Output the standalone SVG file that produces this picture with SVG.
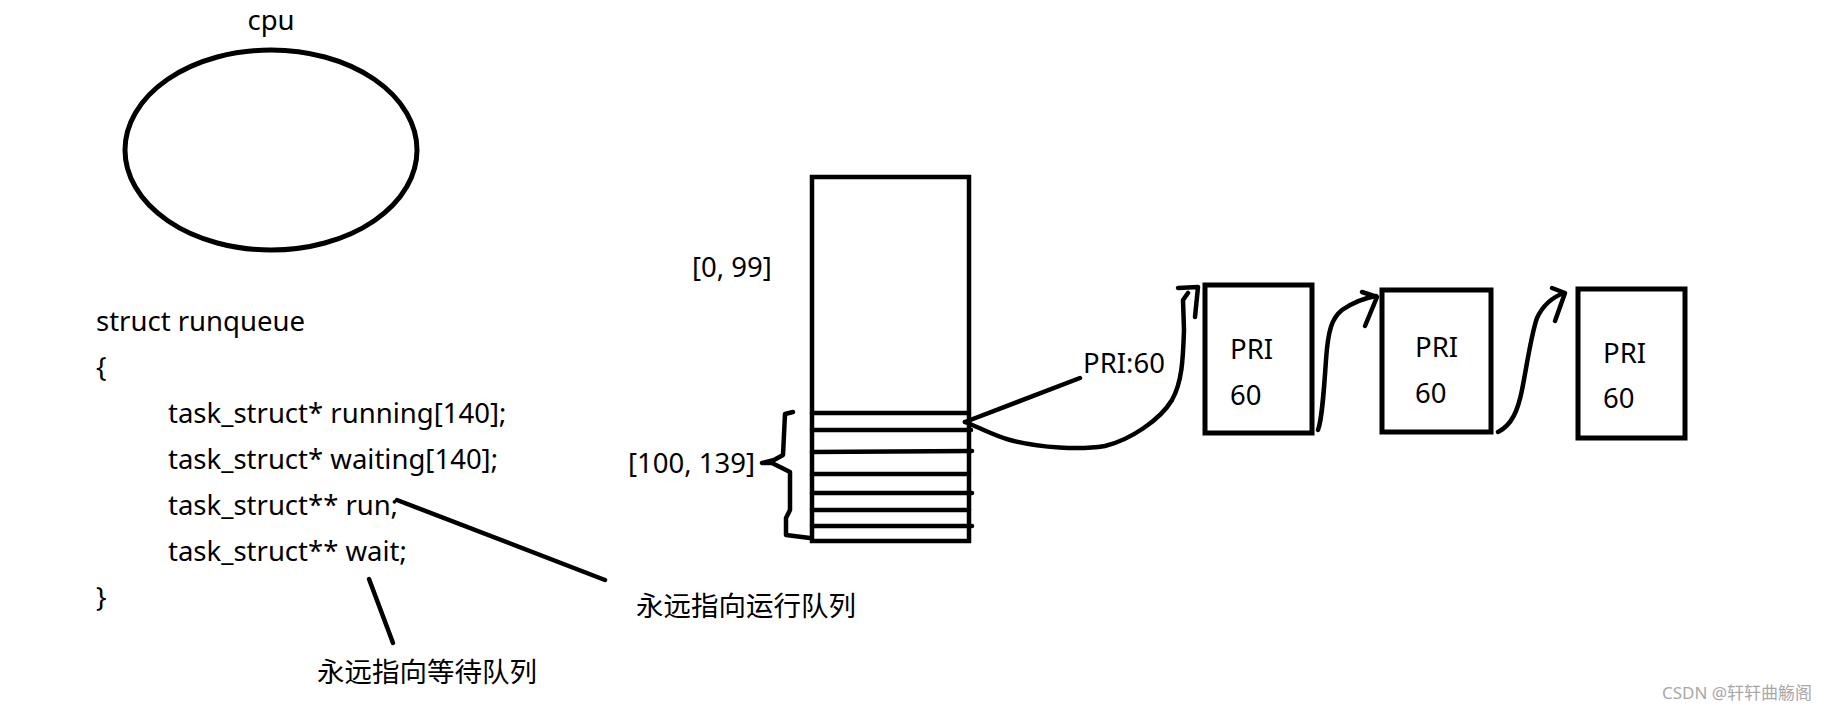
<svg xmlns="http://www.w3.org/2000/svg" width="1846" height="713" viewBox="0 0 1846 713">
<style>
.t{font-family:"Noto Sans","Noto Sans CJK SC",sans-serif;font-size:27.5px;fill:#000}
.cjk{font-family:"Noto Sans CJK SC","Noto Sans",sans-serif;font-size:27.5px;fill:#000}
.s{fill:none;stroke:#000;stroke-width:4.5;stroke-linecap:round;stroke-linejoin:round}
.box{fill:#fff;stroke:#000;stroke-width:5}
.wm{font-family:"Noto Sans","Noto Sans CJK SC",sans-serif;font-size:17px;fill:#a8a8a8}
</style>
<rect width="1846" height="713" fill="#fff"/>

<g id="cpu">
<ellipse cx="271" cy="150" rx="146" ry="100" fill="none" stroke="#000" stroke-width="5"/>
<text class="t" x="271" y="30" text-anchor="middle">cpu</text>
</g>

<g id="runqueue">
<text class="t" x="96" y="331">struct runqueue</text>
<text class="t" x="96" y="377">{</text>
<text class="t" x="168" y="423">task_struct* running[140];</text>
<text class="t" x="168" y="469">task_struct* waiting[140];</text>
<text class="t" x="168" y="515">task_struct** run;</text>
<text class="t" x="168" y="561">task_struct** wait;</text>
<text class="t" x="96" y="607">}</text>
</g>

<g id="array">
<rect x="812" y="177" width="157" height="364" fill="none" stroke="#000" stroke-width="4.5"/>
<path class="s" d="M812,413 L969,413 M812,430 L971,430 M812,452 L972,451 M812,474 L969,474 M812,493 L972,493 M812,510 L969,510 M812,526 L972,526"/>
<text class="t" x="692" y="277">[0, 99]</text>
<text class="t" x="628" y="473">[100, 139]</text>
</g>

<g id="brace">
<path class="s" d="M793,412 L785,414 L783,455 L774,460 L762,463 L772,463 L790,472 L790,510 L786,518 L786,535 L810,538"/>
</g>

<g id="label-pri">
<text class="t" x="1083" y="373">PRI:60</text>
</g>

<g id="task1">
<rect class="box" x="1205" y="285" width="107" height="148"/>
<text class="t" x="1230" y="359">PRI</text>
<text class="t" x="1230" y="405">60</text>
</g>

<g id="task2">
<rect class="box" x="1382" y="290" width="109" height="142"/>
<text class="t" x="1415" y="357">PRI</text>
<text class="t" x="1415" y="403">60</text>
</g>

<g id="task3">
<rect class="box" x="1578" y="289" width="107" height="149"/>
<text class="t" x="1603" y="363">PRI</text>
<text class="t" x="1603" y="408">60</text>
</g>

<g id="notes">
<text class="cjk" x="636" y="616">永远指向运行队列</text>
<text class="cjk" x="317" y="682">永远指向等待队列</text>
</g>

<g id="connectors">
<path class="s" d="M397,500 L605,580"/>
<path class="s" d="M369,579 L393,643"/>
<path class="s" d="M965,422 L1080,378"/>
<path class="s" d="M965,422 C985,430 995,436 1010,440 C1040,448 1080,450 1105,446 C1130,440 1160,420 1172,400 C1182,382 1183,360 1184,330 L1183,300 L1188,293"/>
<path class="s" d="M1178,288 L1198,287 L1195,317"/>
<path class="s" d="M1318,430 C1322,420 1324,390 1326,360 C1328,330 1332,318 1342,310 C1352,303 1365,298 1376,296"/>
<path class="s" d="M1362,292 L1377,297 L1365,326"/>
<path class="s" d="M1498,432 C1512,425 1518,410 1522,390 C1527,365 1531,335 1537,318 C1543,305 1553,297 1564,293"/>
<path class="s" d="M1552,288 L1565,293 L1555,321"/>
</g>

<text class="wm" x="1662" y="699">CSDN @轩轩曲觞阁</text>
</svg>
